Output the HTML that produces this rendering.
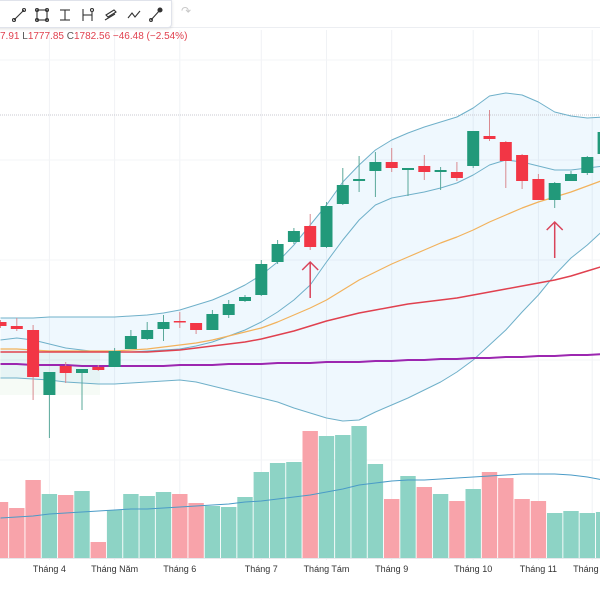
<!DOCTYPE html>
<html><head><meta charset="utf-8">
<style>
html,body{margin:0;padding:0;background:#fff;width:600px;height:600px;overflow:hidden;font-family:"Liberation Sans",sans-serif;}
#wrap{position:relative;width:600px;height:600px;}
svg{position:absolute;left:0;top:0;}
#toolbar{position:absolute;left:-6px;top:0;width:176px;height:26px;background:#fff;border:1px solid #e0e3eb;border-radius:0 0 4px 4px;box-shadow:0 1px 3px rgba(0,0,0,0.12);}
#legend{position:absolute;left:0;top:31px;font-size:10px;color:#e0414f;white-space:nowrap;}
</style></head>
<body>
<div id="wrap">
<svg id="chart" width="600" height="600"></svg>
<div id="toolbar">
<svg width="200" height="26">
 <g stroke="#333" stroke-width="1.1" fill="none">
  <g><line x1="19" y1="19" x2="29" y2="9"/><circle cx="19" cy="19" r="1.5"/><circle cx="29" cy="9" r="1.5"/></g>
  <g><rect x="42" y="9" width="10" height="10"/><circle cx="42" cy="9" r="1.5"/><circle cx="52" cy="19" r="1.5"/><circle cx="52" cy="9" r="1.5"/><circle cx="42" cy="19" r="1.5"/></g>
  <g><line x1="65" y1="9" x2="75" y2="9"/><line x1="70" y1="9" x2="70" y2="19"/><line x1="65" y1="19" x2="75" y2="19"/></g>
  <g><line x1="88" y1="8" x2="88" y2="20"/><line x1="88" y1="14" x2="97" y2="14"/><line x1="97" y1="11" x2="97" y2="20"/><circle cx="97" cy="9" r="1.5"/></g>
  <g><path d="M111 14 L119 9 L121 11 L113 16 Z"/><path d="M110 19 L120 13"/></g>
  <g><path d="M133 17 L137 12 L140 16 L145 10"/></g>
  <g><line x1="156" y1="19" x2="165" y2="9"/><circle cx="156" cy="19" r="1.4"/><circle cx="165" cy="9" r="2" fill="#333"/></g>
 </g>
</svg>
</div>
<div style="position:absolute;left:181px;top:4px;font-size:12px;color:#c8c8c8;">↷</div>
<div id="legend"><span style="color:#e0414f">7.91</span> <span style="color:#555">L</span>1777.85 <span style="color:#555">C</span>1782.56 −46.48 (−2.54%)</div>
</div>
<script>
const opens  = [1756,1748,1740,1610,1668,1654,1666,1666,1702,1722,1742,1758,1754,1740,1770,1798,1810,1876,1916,1948,1906,1992,2038,2058,2076,2060,2068,2056,2056,2068,2128,2116,2090,2042,2000,2038,2054,2092];
const closes = [1748,1742,1646,1656,1654,1662,1660,1698,1728,1740,1756,1757,1740,1772,1792,1806,1872,1912,1938,1906,1988,2030,2042,2076,2064,2064,2056,2060,2044,2138,2122,2078,2038,2000,2034,2052,2086,2136];
const highs  = [1760,1764,1750,1656,1676,1662,1670,1704,1740,1756,1770,1776,1754,1780,1800,1810,1880,1920,1944,1972,1996,2064,2088,2096,2104,2064,2090,2066,2076,2138,2180,2118,2092,2052,2036,2058,2088,2140];
const lows   = [1744,1738,1600,1524,1634,1580,1658,1666,1702,1720,1718,1744,1732,1740,1764,1796,1808,1872,1912,1900,1904,1990,2016,2006,2056,2008,2040,2020,2038,2064,2118,2024,2022,2000,1984,2038,2050,2088];
const volumes = [560,500,780,640,630,670,160,480,640,620,660,640,550,520,510,610,860,950,960,1270,1220,1230,1320,940,590,820,710,640,570,690,860,800,590,570,450,470,450,460];
const volumeMA = [400,410,420,440,450,460,470,480,490,490,500,510,520,530,540,560,570,590,610,630,660,690,730,750,770,780,780,790,800,810,820,830,840,840,840,830,810,780];
const bbUpper = [1764,1764,1764,1766,1766,1766,1766,1766,1768,1770,1774,1780,1790,1800,1814,1830,1850,1876,1910,1950,1990,2036,2070,2100,2120,2134,2146,2156,2166,2184,2208,2214,2210,2196,2176,2168,2164,2166];
const bbMiddle = [1720,1724,1720,1712,1704,1700,1696,1696,1696,1698,1700,1702,1708,1716,1728,1740,1756,1776,1800,1830,1876,1920,1960,1990,2004,2010,2016,2024,2034,2050,2070,2080,2076,2068,2060,2060,2064,2068];
const bbLower = [1644,1644,1642,1640,1636,1634,1632,1632,1634,1636,1638,1640,1636,1628,1620,1612,1604,1596,1584,1574,1564,1558,1560,1576,1590,1604,1620,1636,1656,1680,1710,1740,1776,1810,1850,1884,1910,1940];
const ma20 = [1702,1702,1700,1698,1698,1698,1698,1698,1700,1702,1706,1710,1714,1720,1728,1736,1744,1756,1770,1784,1800,1820,1840,1856,1872,1886,1900,1914,1926,1940,1956,1970,1984,1996,2006,2016,2028,2040];
const ma50 = [1696,1696,1696,1696,1696,1696,1696,1696,1696,1696,1698,1700,1704,1708,1712,1716,1722,1730,1738,1748,1758,1766,1774,1780,1786,1792,1796,1800,1804,1810,1816,1822,1828,1834,1840,1848,1858,1868];
const ma200 = [1672,1672,1670,1670,1670,1668,1668,1668,1668,1668,1668,1670,1670,1670,1672,1672,1672,1674,1674,1674,1676,1676,1676,1678,1678,1680,1680,1682,1682,1684,1684,1686,1686,1688,1688,1690,1690,1692];
const monthLabels = ["Tháng 4","Tháng Năm","Tháng 6","Tháng 7","Tháng Tám","Tháng 9","Tháng 10","Tháng 11","Tháng 12"];
const monthIndex = [3,7,11,16,20,24,29,33,36.3];
const signalIndex = [19,34];
const signalPrice = [1876,1956];
const refLine = 2170;

const NS="http://www.w3.org/2000/svg";
const svg=document.getElementById('chart');
const xS=i=>0.5+16.3*i;
const yS=p=>(2400-p)/2;
const vS=v=>558-v/10;
function el(tag,attrs,parent){const e=document.createElementNS(NS,tag);for(const k in attrs)e.setAttribute(k,attrs[k]);(parent||svg).appendChild(e);return e;}
const G='#22997a',R='#f23645';

monthIndex.forEach((m,k)=>{
  const g=el('line',{x1:xS(m),x2:xS(m),y1:30,y2:560,stroke:'#f0f2f5','stroke-width':1});
  
  
});
[60,160,260,360,460].forEach(y=>{
  const g=el('line',{x1:0,x2:600,y1:y,y2:y,stroke:'#f3f4f7','stroke-width':1});
  
  
});
const toolSep=el('line',{x1:0,x2:600,y1:27.5,y2:27.5,stroke:'#eceef2'});



volumes.forEach((v,i)=>{
  const up=closes[i]>=opens[i];
  const b=el('rect',{x:xS(i)-7.7,y:vS(v),width:15.4,height:558-vS(v),fill:up?'#8dd3c5':'#f8a3aa'});
  
  
});
const vma=el('polyline',{points:volumeMA.map((v,i)=>xS(i)+','+vS(v)).join(' '),fill:'none',stroke:'#4a9bc7','stroke-width':1});



const fillPts=bbUpper.map((v,i)=>xS(i)+','+yS(v)).concat(bbLower.map((v,i)=>xS(i)+','+yS(v)).reverse()).join(' ');
const bf=el('polygon',{points:fillPts,fill:'rgba(33,150,243,0.07)'});


const gf=el('rect',{x:0,y:350,width:100,height:45,fill:'rgba(76,175,80,0.05)'});



const ref=el('line',{x1:0,x2:600,y1:yS(refLine),y2:yS(refLine),stroke:'#c8c8d0','stroke-width':1,'stroke-dasharray':'1 1'});



function line(arr,color,w,name){
  const p=el('polyline',{points:arr.map((v,i)=>xS(i)+','+yS(v)).join(' '),fill:'none',stroke:color,'stroke-width':w,'stroke-linejoin':'round'});
  
  
}
line(bbUpper,'#6fb0c9',1,'bollinger-upper');
line(bbLower,'#6fb0c9',1,'bollinger-lower');
line(bbMiddle,'#6fb0c9',1,'bollinger-middle');
line(ma20,'#f2b25c',1.2,'ma20-line');
line(ma50,'#e0414f',1.5,'ma50-line');
line(ma200,'#9c27b0',2,'ma200-line');

opens.forEach((o,i)=>{
  const c=closes[i],up=c>=o,col=up?G:R,x=xS(i);
  const g=el('g',{});
  
  
  el('line',{x1:x,x2:x,y1:yS(highs[i]),y2:yS(lows[i]),stroke:up?'#5aa89a':'#d98a90','stroke-width':1},g);
  const top=yS(Math.max(o,c)),h=Math.max(1.5,Math.abs(yS(o)-yS(c)));
  el('rect',{x:x-6,y:top,width:12,height:h,fill:col},g);
});

signalIndex.forEach((si,k)=>{
  const x=xS(si),y=yS(signalPrice[k]);
  const a=el('path',{d:`M${x} ${y+36} L${x} ${y} M${x-8} ${y+8} L${x} ${y} L${x+8} ${y+8}`,stroke:'#d9445a','stroke-width':1.5,fill:'none'});
  
  
});

const ax=el('line',{x1:0,x2:600,y1:558.5,y2:558.5,stroke:'#e6e8ec'});


monthLabels.forEach((t,k)=>{
  const tx=el('text',{x:xS(monthIndex[k]),y:572,'text-anchor':'middle','font-size':'9','fill':'#333','font-family':'Liberation Sans, sans-serif'});
  tx.textContent=t;
  
  
});
</script>
</body></html>
